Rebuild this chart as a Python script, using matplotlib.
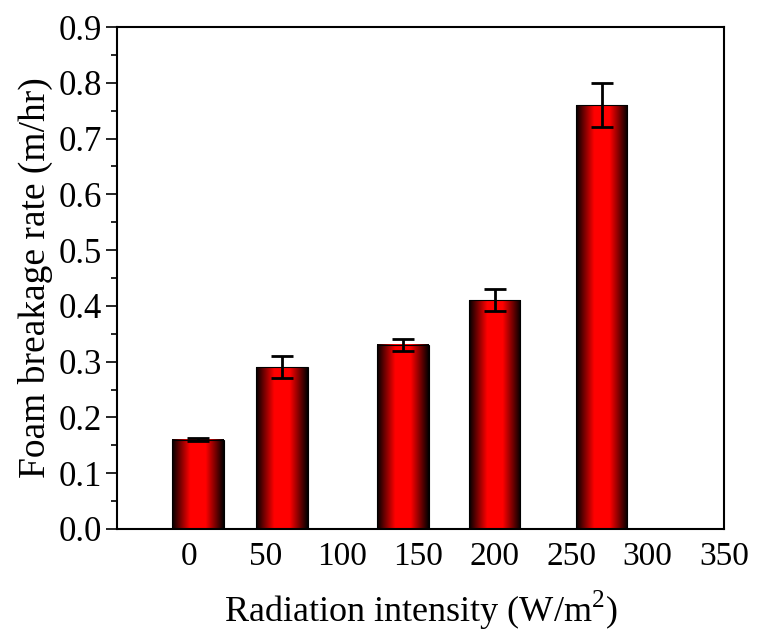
import numpy as np
import matplotlib.pyplot as plt
from matplotlib.colors import LinearSegmentedColormap

# data
bar_pos = [6, 61, 140, 200, 270]
rate = [0.16, 0.29, 0.33, 0.41, 0.76]
err = [0.003, 0.02, 0.01, 0.02, 0.04]
tick_vals = [0, 50, 100, 150, 200, 250, 300, 350]

plt.rcParams['font.family'] = 'Liberation Serif'
plt.rcParams['mathtext.fontset'] = 'custom'
plt.rcParams['mathtext.rm'] = 'Liberation Serif'

fig = plt.figure(figsize=(7.61, 6.44), dpi=100)
ax = fig.add_axes([0.1537, 0.1786, 0.7977, 0.7794])

# horizontal shading: dark edges, bright red middle
cmap = LinearSegmentedColormap.from_list('shade', [(0, '#000000'), (0.35, '#ff0000'),
                                                  (0.65, '#ff0000'), (1, '#000000')])
grad = np.linspace(0, 1, 256).reshape(1, -1)
w = 33.6
for x, h in zip(bar_pos, rate):
    ax.imshow(grad, cmap=cmap, aspect='auto', extent=(x - w/2, x + w/2, 0, h), zorder=2)
    ax.add_patch(plt.Rectangle((x - w/2, 0), w, h, fill=False, edgecolor='black', lw=0.8, zorder=3))

ax.errorbar(bar_pos, rate, yerr=err, fmt='none', ecolor='black', elinewidth=2,
            capsize=8, capthick=2, zorder=4)

ax.set_xlim(-47, 349)
ax.set_ylim(0, 0.9)
ax.set_xticks(tick_vals)
ax.tick_params(axis='x', length=0, pad=9, labelsize=24)
ax.set_yticks(np.arange(0, 0.91, 0.1))
ax.set_yticks(np.arange(0.05, 0.9, 0.1), minor=True)
ax.tick_params(axis='y', which='major', length=8, width=1.2, direction='out', labelsize=25, pad=3)
ax.tick_params(axis='y', which='minor', length=4.5, width=1.2, direction='out')
ax.yaxis.set_major_formatter(plt.FuncFormatter(lambda v, p: f'{v:.1f}'))
for s in ax.spines.values():
    s.set_linewidth(1.5)

ax.set_xlabel('Radiation intensity (W/m$^2$)', fontsize=26, labelpad=12)
ax.set_ylabel('Foam breakage rate (m/hr)', fontsize=27, labelpad=4)

fig.savefig('out.png', dpi=100)
